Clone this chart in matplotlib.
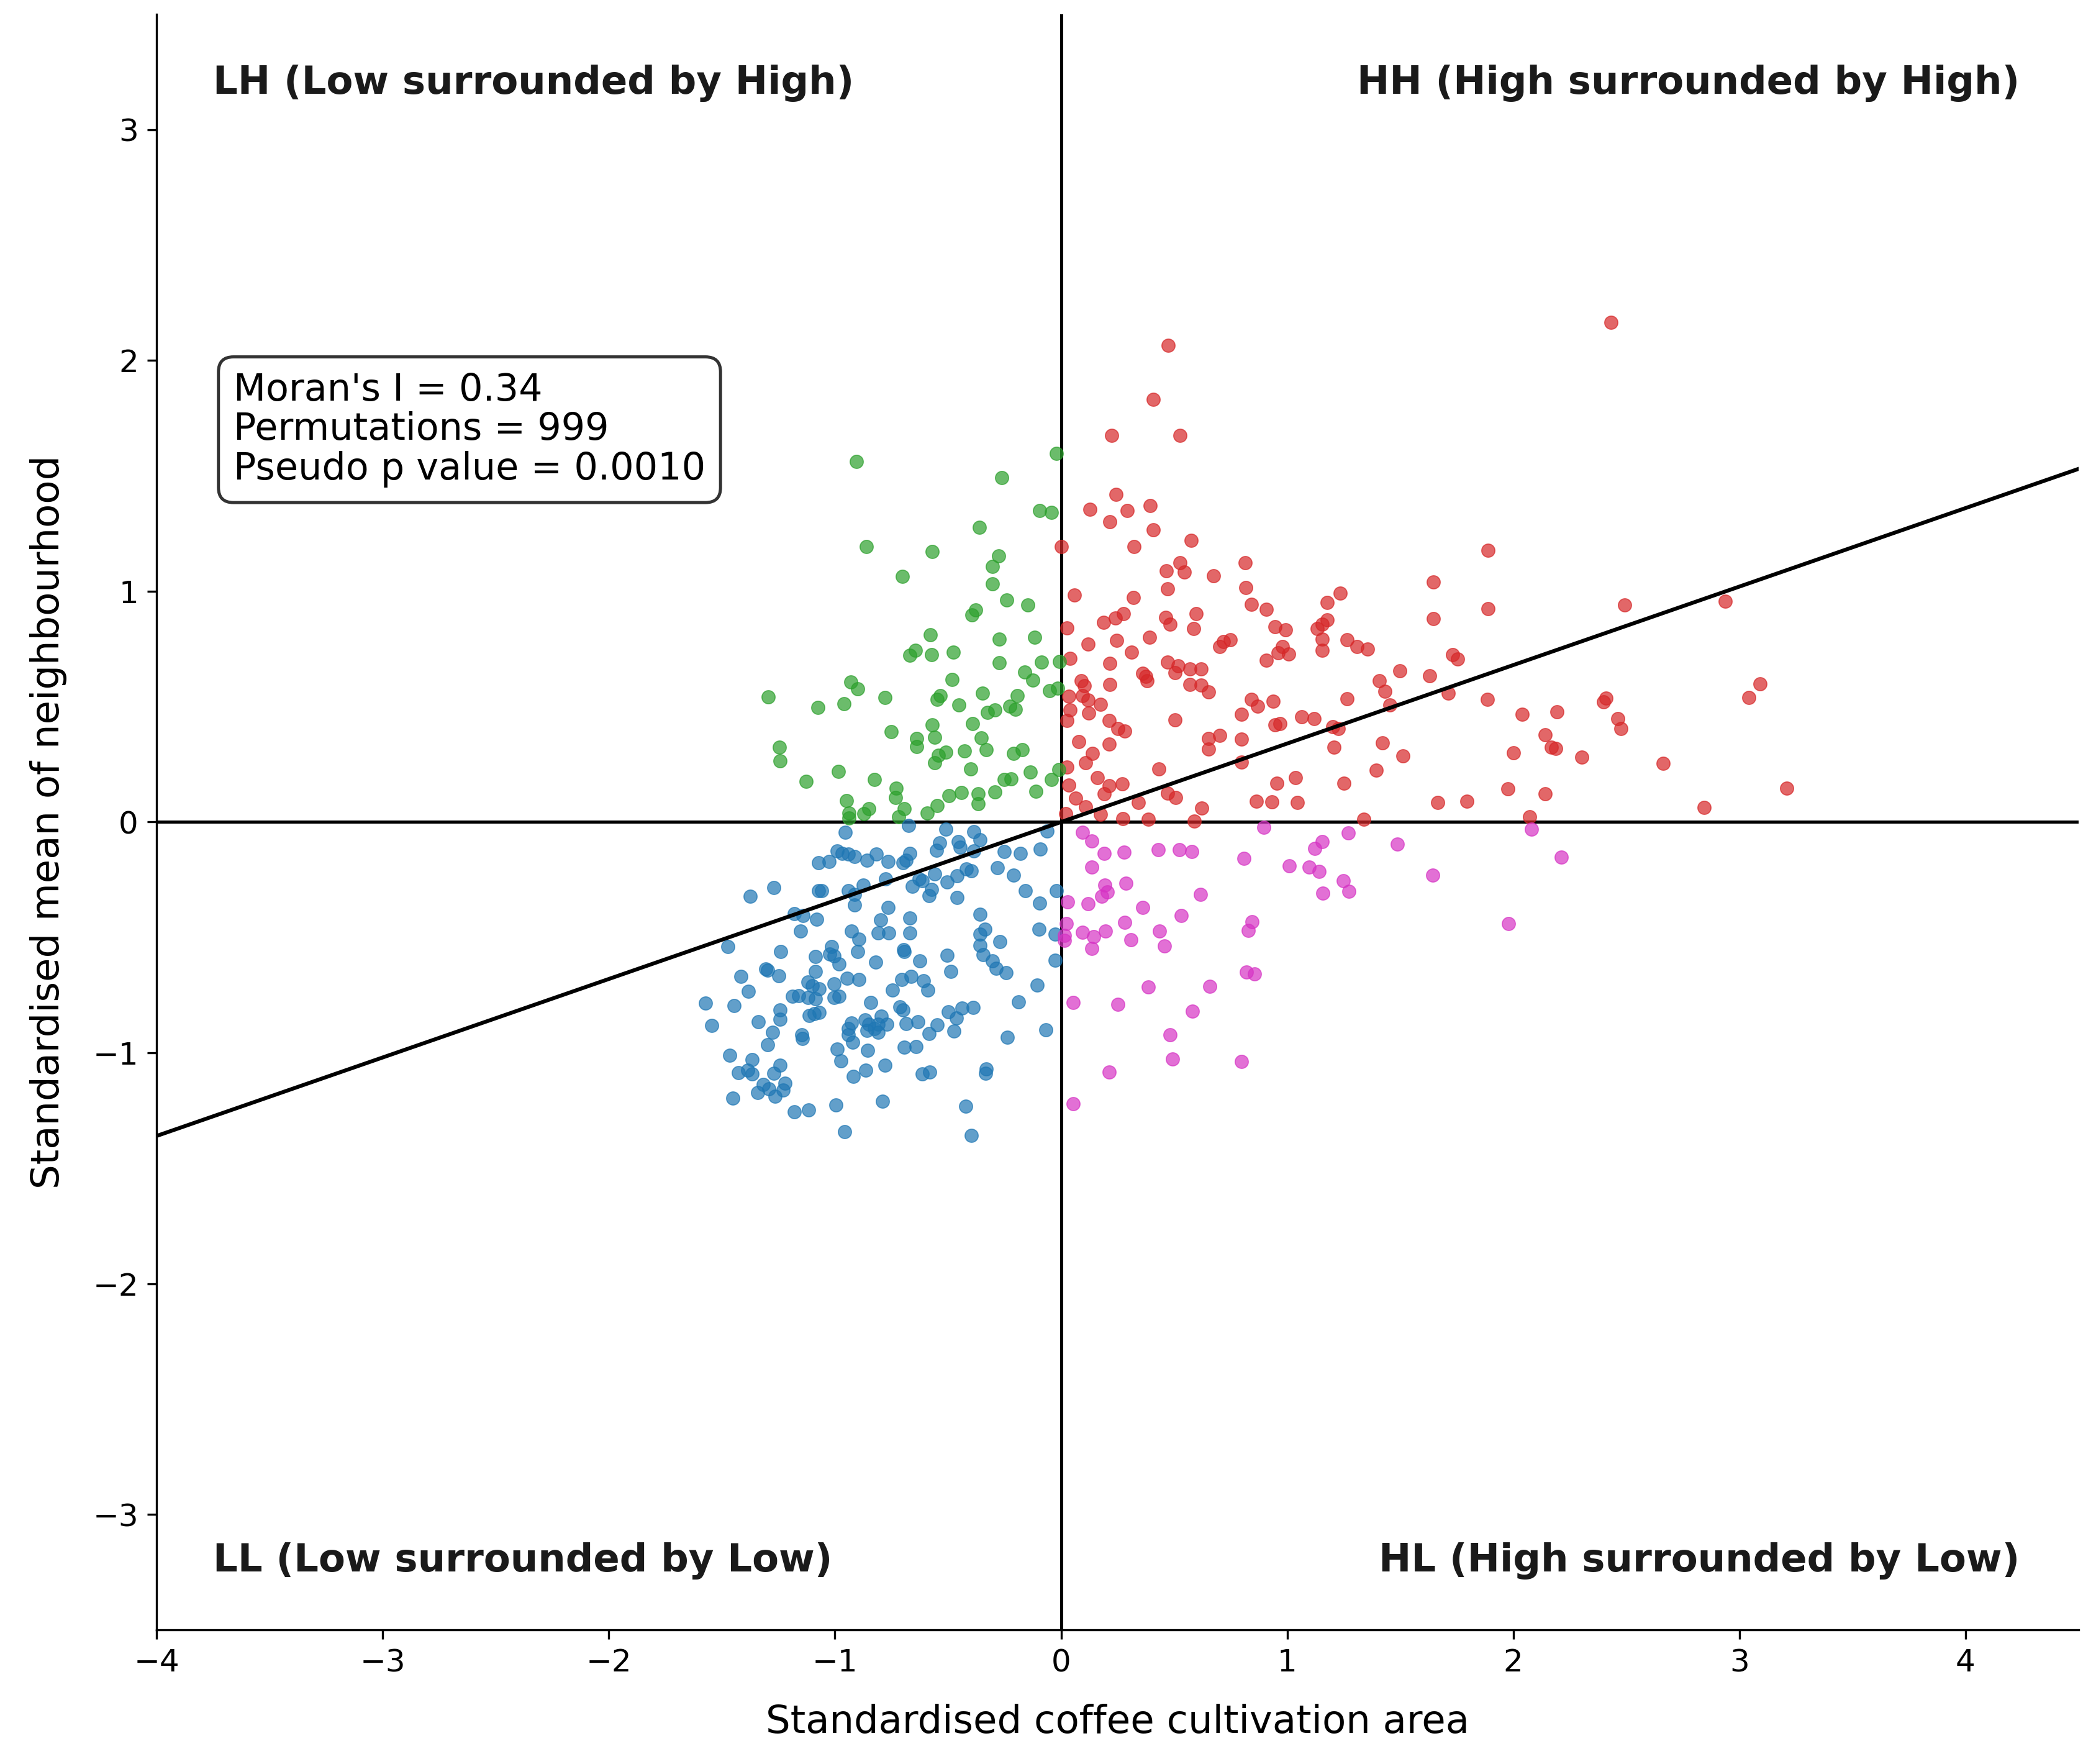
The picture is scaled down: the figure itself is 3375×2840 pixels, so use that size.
import matplotlib.pyplot as plt
import numpy as np

# Moran scatter plot: coffee cultivation area vs. spatial lag
moran_i = 0.34
permutations = 999
p_sim = 0.0010

# HH quadrant (High surrounded by High)
hh_x = [0.474, 0.409, 0.223, 0.527, 0.243, 0.127, 0.292, 0.393, 0.216, 0.407, 0.576, 0.002, 0.323,
        0.527, 0.466, 0.545, 0.674, 0.814, 1.887, 1.646, 2.431,
        0.060, 0.321, 0.470, 0.818, 0.026, 0.189, 0.241, 0.276, 0.462, 0.481, 0.598, 0.586, 0.120,
        0.247, 0.390, 0.311, 0.703, 0.719, 0.749, 0.039, 0.216, 0.470, 0.517, 0.505, 0.569, 0.618,
        0.362, 0.376, 0.380, 0.090, 0.102, 0.215, 0.569, 0.618, 0.653, 0.035, 0.094, 0.120, 0.175,
        0.041, 0.122, 0.026, 0.212, 0.504, 0.798, 0.250, 0.282, 0.078, 0.213, 0.651, 0.701, 0.651,
        0.799, 0.138, 0.108, 0.026, 0.433, 0.799, 0.160, 0.035, 0.212, 0.270, 0.190, 0.470, 0.508,
        0.065, 0.343, 0.108, 0.621, 0.021, 0.174, 0.273, 0.387, 0.589,
        1.234, 0.843, 0.908, 1.177, 1.889, 1.646, 0.946, 0.994, 1.134, 1.155, 1.177, 1.155, 1.155,
        1.265, 1.310, 1.354, 0.978, 0.960, 1.007, 0.908, 1.731, 1.754, 1.498, 1.630, 1.407, 1.431,
        1.713, 1.885, 1.264, 1.454, 0.841, 0.868, 0.937, 2.038, 1.063, 1.120, 0.946, 0.969, 1.202,
        1.225, 1.422, 1.207, 1.512, 2.001, 1.393, 1.036, 0.953, 1.252, 1.976, 0.865, 0.932, 1.045,
        1.665, 1.796, 1.340,
        2.492, 2.936, 3.091, 3.043, 2.411, 2.398, 2.194, 2.462, 2.477, 2.142, 2.168, 2.187, 2.303,
        2.663, 3.208, 2.141, 2.843, 2.072]
hh_y = [2.065, 1.831, 1.675, 1.675, 1.419, 1.354, 1.350, 1.370, 1.301, 1.266, 1.221, 1.194, 1.192,
        1.124, 1.088, 1.084, 1.068, 1.124, 1.177, 1.039, 2.165,
        0.983, 0.972, 1.010, 1.015, 0.840, 0.865, 0.885, 0.903, 0.886, 0.858, 0.903, 0.837, 0.772,
        0.788, 0.799, 0.736, 0.760, 0.781, 0.790, 0.709, 0.687, 0.693, 0.676, 0.646, 0.662, 0.662,
        0.644, 0.631, 0.611, 0.613, 0.590, 0.597, 0.595, 0.593, 0.563, 0.545, 0.548, 0.528, 0.509,
        0.485, 0.471, 0.440, 0.440, 0.442, 0.467, 0.406, 0.395, 0.348, 0.338, 0.363, 0.375, 0.316,
        0.359, 0.296, 0.256, 0.239, 0.231, 0.260, 0.191, 0.161, 0.157, 0.166, 0.121, 0.125, 0.107,
        0.103, 0.085, 0.067, 0.060, 0.036, 0.033, 0.015, 0.011, 0.004,
        0.992, 0.943, 0.922, 0.950, 0.925, 0.882, 0.846, 0.833, 0.837, 0.858, 0.876, 0.793, 0.743,
        0.790, 0.761, 0.748, 0.759, 0.734, 0.729, 0.700, 0.726, 0.707, 0.654, 0.633, 0.611, 0.566,
        0.559, 0.532, 0.534, 0.507, 0.530, 0.503, 0.523, 0.467, 0.456, 0.449, 0.422, 0.426, 0.413,
        0.406, 0.344, 0.323, 0.287, 0.299, 0.224, 0.191, 0.168, 0.167, 0.143, 0.089, 0.087, 0.085,
        0.085, 0.091, 0.013,
        0.941, 0.956, 0.599, 0.539, 0.536, 0.521, 0.478, 0.449, 0.404, 0.379, 0.323, 0.319, 0.280,
        0.253, 0.146, 0.123, 0.062, 0.024]

# LH quadrant (Low surrounded by High)
lh_x = [-0.904, -0.860, -0.569, -0.702, -0.021, -0.263, -0.095, -0.042, -0.362, -0.276, -0.303, -0.303,
        -0.579, -0.670, -0.645, -0.572, -0.476, -0.481, -0.533, -0.547, -0.451, -0.931, -0.899, -0.780,
        -1.296, -1.076, -0.961, -0.751, -0.571, -0.558, -0.638, -0.638, -0.510, -0.542, -0.558, -0.428,
        -1.245, -1.243, -0.986, -1.127, -0.826, -0.730, -0.732, -0.496, -0.440, -0.950, -0.849, -0.872,
        -0.939, -0.939, -0.693, -0.719, -0.549, -0.591,
        -0.240, -0.148, -0.377, -0.393, -0.272, -0.116, -0.272, -0.087, -0.006, -0.162, -0.126, -0.050,
        -0.016, -0.347, -0.194, -0.226, -0.201, -0.325, -0.292, -0.391, -0.352, -0.332, -0.210, -0.173,
        -0.400, -0.137, -0.011, -0.252, -0.222, -0.043, -0.366, -0.368, -0.292, -0.110]
lh_y = [1.563, 1.192, 1.172, 1.064, 1.598, 1.493, 1.349, 1.340, 1.276, 1.152, 1.107, 1.033,
        0.810, 0.723, 0.743, 0.725, 0.735, 0.618, 0.548, 0.532, 0.507, 0.606, 0.576, 0.540,
        0.543, 0.496, 0.513, 0.392, 0.420, 0.368, 0.363, 0.327, 0.302, 0.290, 0.257, 0.307,
        0.325, 0.266, 0.218, 0.177, 0.185, 0.146, 0.107, 0.114, 0.127, 0.094, 0.058, 0.036,
        0.040, 0.018, 0.058, 0.022, 0.070, 0.040,
        0.961, 0.941, 0.919, 0.898, 0.792, 0.799, 0.690, 0.694, 0.696, 0.649, 0.615, 0.568,
        0.579, 0.557, 0.548, 0.503, 0.489, 0.476, 0.485, 0.425, 0.365, 0.314, 0.296, 0.312,
        0.230, 0.217, 0.227, 0.184, 0.188, 0.185, 0.123, 0.080, 0.130, 0.134]

# LL quadrant (Low surrounded by Low)
ll_x = [-0.675, -0.954, -0.510, -0.538, -0.551, -0.455, -0.446, -0.991, -0.968, -0.940, -0.913, -0.817,
        -0.668, -1.073, -1.027, -0.858, -0.766, -0.684, -0.698,
        -0.386, -0.359, -0.063, -0.252, -0.180, -0.093, -0.385,
        -1.376, -1.270, -1.073, -1.060, -0.940, -0.876, -0.913, -0.913, -1.179, -1.142, -1.082, -1.151,
        -0.927, -0.895, -0.899, -1.473, -1.240, -1.085, -1.016, -1.023, -1.005, -0.982, -0.821, -1.305,
        -1.299, -1.247, -1.085, -1.415, -0.945, -0.895, -1.119, -1.101, -1.069, -1.005, -1.382, -1.188,
        -1.160, -1.119, -1.087, -1.005, -0.982, -1.572, -1.446, -0.842, -1.243, -1.243, -1.115, -1.092,
        -1.069, -1.545, -1.339, -1.275, -1.146, -1.144, -1.299, -0.940, -0.927, -0.940, -0.922, -0.867,
        -0.849, -0.826, -0.858, -0.991, -0.856, -0.973, -1.465, -1.366, -1.428, -1.385, -1.366, -1.243,
        -1.270, -0.863, -0.918, -1.316, -1.343, -1.291, -1.266, -1.220, -1.229, -1.451, -0.995, -1.180,
        -1.117, -0.957,
        -0.418, -0.396, -0.281, -0.210, -0.157, -0.020, -0.095, -0.098, -0.025, -0.025, -0.560, -0.505,
        -0.460, -0.629, -0.657, -0.614, -0.574, -0.585, -0.460, -0.776, -0.765, -0.799, -0.808, -0.762,
        -0.668, -0.668, -0.359, -0.336, -0.359, -0.359, -0.345, -0.270, -0.304, -0.286, -0.243, -0.695,
        -0.693, -0.624, -0.505, -0.487, -0.704, -0.664, -0.609, -0.588, -0.745, -0.712, -0.698, -0.794,
        -0.808, -0.771, -0.808, -0.686, -0.634, -0.549, -0.585, -0.498, -0.462, -0.439, -0.388, -0.475,
        -0.188, -0.105, -0.238, -0.068, -0.693, -0.641, -0.780, -0.615, -0.582, -0.332, -0.334, -0.789,
        -0.421, -0.398]
ll_y = [-0.014, -0.045, -0.032, -0.090, -0.122, -0.086, -0.108, -0.126, -0.135, -0.140, -0.149, -0.140,
        -0.135, -0.176, -0.172, -0.167, -0.172, -0.167, -0.176,
        -0.041, -0.077, -0.039, -0.129, -0.135, -0.117, -0.125,
        -0.321, -0.284, -0.297, -0.297, -0.297, -0.274, -0.315, -0.360, -0.396, -0.405, -0.420, -0.472,
        -0.472, -0.508, -0.560, -0.540, -0.560, -0.583, -0.540, -0.571, -0.580, -0.616, -0.607, -0.636,
        -0.643, -0.665, -0.647, -0.670, -0.677, -0.681, -0.692, -0.710, -0.724, -0.701, -0.734, -0.755,
        -0.751, -0.760, -0.765, -0.760, -0.755, -0.785, -0.794, -0.782, -0.813, -0.854, -0.839, -0.830,
        -0.825, -0.881, -0.866, -0.911, -0.923, -0.939, -0.964, -0.894, -0.871, -0.921, -0.953, -0.858,
        -0.876, -0.894, -0.903, -0.984, -0.989, -1.036, -1.011, -1.029, -1.085, -1.074, -1.092, -1.054,
        -1.088, -1.076, -1.101, -1.137, -1.171, -1.155, -1.187, -1.133, -1.160, -1.195, -1.227, -1.256,
        -1.247, -1.342,
        -0.203, -0.212, -0.198, -0.230, -0.297, -0.297, -0.351, -0.465, -0.598, -0.486, -0.225, -0.261,
        -0.234, -0.247, -0.279, -0.255, -0.292, -0.318, -0.328, -0.247, -0.369, -0.423, -0.481, -0.481,
        -0.416, -0.481, -0.400, -0.463, -0.486, -0.535, -0.575, -0.517, -0.602, -0.634, -0.652, -0.553,
        -0.562, -0.602, -0.577, -0.647, -0.683, -0.670, -0.688, -0.728, -0.728, -0.800, -0.813, -0.840,
        -0.877, -0.877, -0.912, -0.872, -0.865, -0.878, -0.917, -0.823, -0.850, -0.805, -0.803, -0.906,
        -0.780, -0.706, -0.933, -0.899, -0.975, -0.973, -1.054, -1.090, -1.083, -1.070, -1.088, -1.209,
        -1.231, -1.359]

# HL quadrant (High surrounded by Low)
hl_x = [0.094, 0.137, 0.190, 0.279, 0.429, 0.523, 0.578, 0.809,
        0.896, 1.269, 1.155, 1.122, 1.486, 2.080, 2.212,
        0.135, 1.010, 1.097, 1.141, 1.157, 0.193, 0.204, 0.179, 0.287, 0.616, 0.028, 0.119, 0.362,
        0.532, 0.282, 0.023, 0.094, 0.145, 0.195, 0.135, 0.310, 0.435, 0.458, 0.845, 0.827, 0.016,
        0.016, 0.821, 0.856, 0.386, 0.659, 0.053, 0.250, 0.582, 0.482, 0.493, 0.799, 0.212, 0.053,
        1.248, 1.274, 1.645, 1.979]
hl_y = [-0.045, -0.081, -0.135, -0.131, -0.120, -0.120, -0.129, -0.158,
        -0.023, -0.047, -0.084, -0.115, -0.097, -0.030, -0.153,
        -0.194, -0.189, -0.194, -0.213, -0.308, -0.274, -0.303, -0.321, -0.266, -0.313, -0.345, -0.355,
        -0.371, -0.405, -0.436, -0.441, -0.477, -0.497, -0.472, -0.549, -0.510, -0.472, -0.538, -0.432,
        -0.470, -0.490, -0.513, -0.649, -0.659, -0.715, -0.712, -0.782, -0.789, -0.820, -0.921, -1.027,
        -1.038, -1.083, -1.220,
        -0.255, -0.301, -0.230, -0.441]

quad_labels = ["HH (High surrounded by High)", "LH (Low surrounded by High)",
               "LL (Low surrounded by Low)", "HL (High surrounded by Low)"]
quad_colors = ["#d62728", "#2ca02c", "#1f77b4", "#d633c4"]

fig = plt.figure(figsize=(11.25, 9.4667), dpi=300)
ax = fig.add_axes([0.0747, 0.076, 0.917, 0.916])

groups = [(hh_x, hh_y), (lh_x, lh_y), (ll_x, ll_y), (hl_x, hl_y)]
for (gx, gy), col in zip(groups, quad_colors):
    ax.scatter(gx, gy, s=26, color=col, alpha=0.7, linewidths=0.4, zorder=3)

ax.axhline(0, color="black", lw=1.2, zorder=2)
ax.axvline(0, color="black", lw=1.2, zorder=2)
ax.axline((0, 0), slope=moran_i, color="black", lw=1.5, zorder=4)

ax.set_xlim(-4, 4.5)
ax.set_ylim(-3.5, 3.5)
ax.set_xticks(np.arange(-4, 5, 1))
ax.set_yticks(np.arange(-3, 4, 1))
ax.tick_params(labelsize=12)
ax.spines["top"].set_visible(False)
ax.spines["right"].set_visible(False)

ax.set_xlabel("Standardised coffee cultivation area", fontsize=15, labelpad=10)
ax.set_ylabel("Standardised mean of neighbourhood", fontsize=15, labelpad=10)

qkw = dict(fontsize=15, fontweight="bold", va="center", color="#1a1a1a")
ax.text(4.24, 3.2, quad_labels[0], ha="right", **qkw)
ax.text(-3.75, 3.2, quad_labels[1], ha="left", **qkw)
ax.text(-3.75, -3.2, quad_labels[2], ha="left", **qkw)
ax.text(4.24, -3.2, quad_labels[3], ha="right", **qkw)

stats = f"Moran's I = {moran_i:.2f}\nPermutations = {permutations}\nPseudo p value = {p_sim:.4f}"
ax.text(-3.66, 1.95, stats, fontsize=14.5, va="top", ha="left", linespacing=1.1,
        bbox=dict(boxstyle="round,pad=0.4", facecolor="white", edgecolor="#333333", lw=1.2))

fig.savefig("out.png", dpi=300)
